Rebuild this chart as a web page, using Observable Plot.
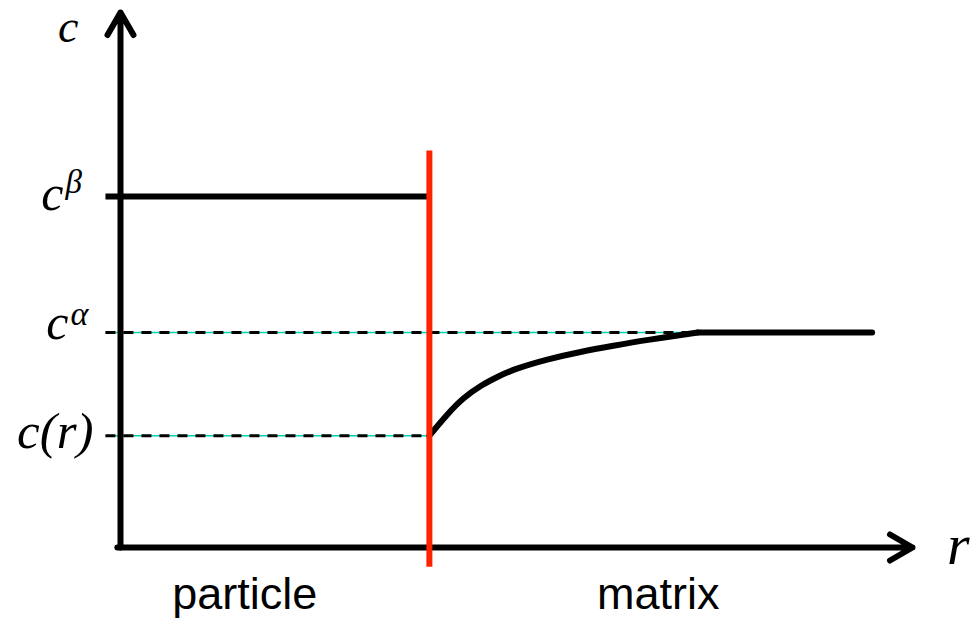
<!DOCTYPE html>
<html>
<head>
<meta charset="utf-8">
<script src="https://cdn.jsdelivr.net/npm/d3@7"></script>
<script src="https://cdn.jsdelivr.net/npm/@observablehq/plot@0.6"></script>
<style>
  html, body { margin: 0; padding: 0; background: #fff; }
</style>
</head>
<body>
<div id="chart"></div>
<script>
// ---- data (r: radial coordinate, c: concentration) ----
const rInterface = 3.9;          // particle / matrix interface
const rFar = 9.49;               // end of matrix profile
const rLeft = -0.19;             // level lines start slightly left of the c axis
const cBeta = 6.56;              // c^beta
const cAlpha = 4.02;             // c^alpha
const cInterface = 2.09;         // c(r)
const redTop = 7.42, redBottom = -0.36;

const curveR = [3.90, 4.13, 4.33, 4.55, 4.76, 4.96, 5.39, 5.81, 6.22, 6.65, 7.29];
const curveC = [2.09, 2.50, 2.80, 3.03, 3.19, 3.33, 3.52, 3.66, 3.77, 3.88, 4.02];

const regionNames = ["particle", "matrix"];
const regionR = [1.57, 6.79];

const curve = curveR.map((r, i) => ({r, c: curveC[i]}));
const flat = [{r: curveR[curveR.length - 1], c: cAlpha}, {r: rFar, c: cAlpha}];
const dashed = [
  {r1: rLeft, r2: curveR[curveR.length - 1], c: cAlpha},
  {r1: rLeft, r2: rInterface, c: cInterface}
];
const regions = regionNames.map((name, i) => ({name, r: regionR[i]}));

const serif = "'Liberation Serif', 'Times New Roman', serif";
const sans = "'Liberation Sans', Arial, sans-serif";

const chart = Plot.plot({
  width: 971,
  height: 621,
  margin: 0,
  x: {domain: [0, 10], range: [120, 912], axis: null},
  y: {domain: [0, 10], range: [547, 12], axis: null},
  marks: [
    // dashed reference levels: thin cyan line under black dashes
    Plot.link(dashed, {x1: "r1", x2: "r2", y1: "c", y2: "c", stroke: "#00d4b4", strokeWidth: 1.5}),
    Plot.link(dashed, {x1: "r1", x2: "r2", y1: "c", y2: "c", stroke: "#000", strokeWidth: 3, strokeDasharray: "10,8"}),
    // c^beta level inside the particle
    Plot.link([{r1: rLeft, r2: rInterface, c: cBeta}], {x1: "r1", x2: "r2", y1: "c", y2: "c", stroke: "#000", strokeWidth: 6}),
    // concentration profile in the matrix
    Plot.line(curve, {x: "r", y: "c", stroke: "#000", strokeWidth: 6, curve: "basis"}),
    Plot.line(flat, {x: "r", y: "c", stroke: "#000", strokeWidth: 6}),
    // axes with arrows
    Plot.arrow([{x1: 0, y1: 0, x2: 0, y2: 10}], {x1: "x1", y1: "y1", x2: "x2", y2: "y2", stroke: "#000", strokeWidth: 6, headLength: 6.5, headAngle: 60}),
    Plot.arrow([{x1: -0.04, y1: 0, x2: 10, y2: 0}], {x1: "x1", y1: "y1", x2: "x2", y2: "y2", stroke: "#000", strokeWidth: 6, headLength: 6.5, headAngle: 60}),
    // interface
    Plot.link([{r: rInterface, c1: redBottom, c2: redTop}], {x1: "r", x2: "r", y1: "c1", y2: "c2", stroke: "#ff2200", strokeWidth: 6}),
    // labels
    Plot.text(["c"], {x: 0, y: 10, text: d => d, fontFamily: serif, fontStyle: "italic", fontSize: 46, textAnchor: "end", lineAnchor: "bottom", dx: -42, dy: 29, fill: "#000"}),
    Plot.text(["c"], {x: 0, y: cBeta, text: d => d, fontFamily: serif, fontStyle: "italic", fontSize: 50, textAnchor: "end", lineAnchor: "bottom", dx: -57, dy: 13, fill: "#000"}),
    Plot.text(["β"], {x: 0, y: cBeta, text: d => d, fontFamily: serif, fontStyle: "italic", fontSize: 33, textAnchor: "start", lineAnchor: "bottom", dx: -55, dy: -4, fill: "#000"}),
    Plot.text(["c"], {x: 0, y: cAlpha, text: d => d, fontFamily: serif, fontStyle: "italic", fontSize: 50, textAnchor: "end", lineAnchor: "bottom", dx: -52, dy: 7, fill: "#000"}),
    Plot.text(["α"], {x: 0, y: cAlpha, text: d => d, fontFamily: serif, fontStyle: "italic", fontSize: 34, textAnchor: "start", lineAnchor: "bottom", dx: -50, dy: -7, fill: "#000"}),
    Plot.text(["c(r)"], {x: 0, y: cInterface, text: d => d, fontFamily: serif, fontStyle: "italic", fontSize: 51, textAnchor: "end", lineAnchor: "bottom", dx: -27, dy: 12, fill: "#000"}),
    Plot.text(["r"], {x: 10, y: 0, text: d => d, fontFamily: serif, fontStyle: "italic", fontSize: 58, textAnchor: "end", lineAnchor: "bottom", dx: 57, dy: 16, fill: "#000"}),
    Plot.text(regions, {x: "r", y: 0, text: "name", fontFamily: sans, fontSize: 45, textAnchor: "middle", lineAnchor: "bottom", dy: 61, fill: "#000"})
  ]
});
document.getElementById("chart").appendChild(chart);
</script>
</body>
</html>
